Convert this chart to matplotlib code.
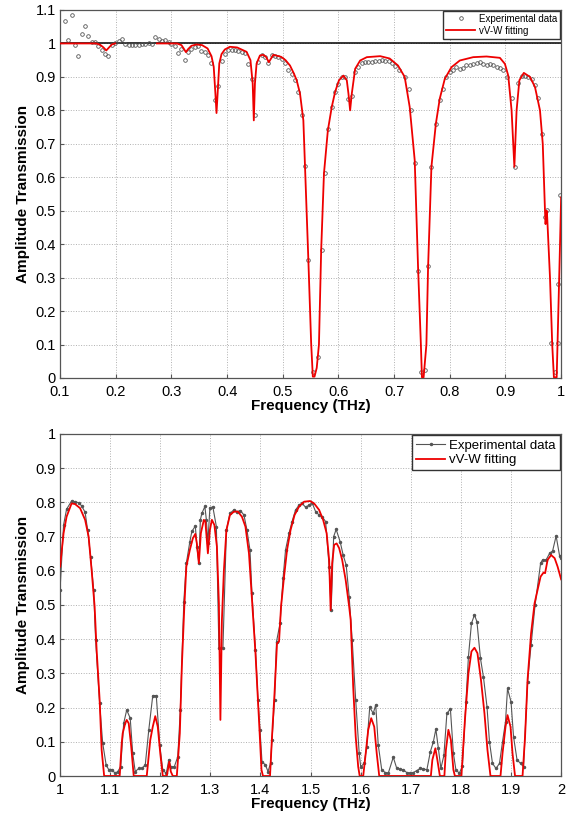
import numpy as np
import matplotlib
matplotlib.use('Agg')
from matplotlib import pyplot as plt

plt.rcParams['font.family'] = ['Liberation Sans', 'DejaVu Sans']

# ---- top panel (0.1 - 1 THz) ----
exp1_f = [0.109, 0.115, 0.121, 0.127, 0.133, 0.139, 0.145, 0.151, 0.157, 0.163, 0.169, 0.175,
          0.181, 0.187, 0.193, 0.199, 0.205, 0.211, 0.217, 0.223, 0.229, 0.235, 0.241, 0.247,
          0.253, 0.259, 0.265, 0.271, 0.277, 0.283, 0.289, 0.295, 0.300, 0.306, 0.312, 0.318,
          0.324, 0.330, 0.336, 0.342, 0.348, 0.354, 0.360, 0.366, 0.372, 0.378, 0.384, 0.390,
          0.396, 0.402, 0.408, 0.414, 0.420, 0.426, 0.432, 0.438, 0.444, 0.450, 0.456, 0.462,
          0.468, 0.474, 0.480, 0.486, 0.492, 0.498, 0.504, 0.510, 0.516, 0.522, 0.528, 0.534,
          0.540, 0.546, 0.555, 0.564, 0.570, 0.576, 0.582, 0.588, 0.594, 0.600, 0.606, 0.612,
          0.618, 0.624, 0.630, 0.636, 0.642, 0.648, 0.654, 0.660, 0.666, 0.672, 0.678, 0.684,
          0.690, 0.696, 0.702, 0.708, 0.720, 0.726, 0.731, 0.737, 0.743, 0.749, 0.755, 0.760,
          0.767, 0.776, 0.782, 0.788, 0.794, 0.800, 0.806, 0.812, 0.818, 0.824, 0.830, 0.836,
          0.842, 0.848, 0.854, 0.860, 0.866, 0.872, 0.878, 0.884, 0.890, 0.896, 0.903, 0.911,
          0.917, 0.923, 0.929, 0.935, 0.941, 0.947, 0.953, 0.959, 0.965, 0.971, 0.975, 0.981,
          0.989, 0.994, 0.995, 0.998]
exp1_t = [1.067, 1.011, 1.084, 0.996, 0.961, 1.027, 1.052, 1.023, 1.004, 1.004, 0.993, 0.979,
          0.969, 0.961, 0.995, 1.001, 1.007, 1.014, 0.999, 0.996, 0.994, 0.996, 0.994, 0.999,
          0.997, 1.002, 0.999, 1.019, 1.014, 1.006, 1.011, 1.004, 0.999, 0.992, 0.972, 0.984,
          0.952, 0.974, 0.982, 0.989, 0.991, 0.977, 0.973, 0.964, 0.943, 0.830, 0.872, 0.949,
          0.969, 0.979, 0.981, 0.979, 0.977, 0.974, 0.971, 0.939, 0.893, 0.787, 0.944, 0.964,
          0.959, 0.941, 0.964, 0.962, 0.959, 0.954, 0.941, 0.921, 0.909, 0.890, 0.855, 0.787,
          0.634, 0.352, 0.019, 0.064, 0.382, 0.614, 0.743, 0.810, 0.855, 0.880, 0.900, 0.900,
          0.835, 0.842, 0.914, 0.929, 0.941, 0.944, 0.946, 0.944, 0.949, 0.949, 0.951, 0.949,
          0.947, 0.942, 0.934, 0.921, 0.900, 0.865, 0.800, 0.643, 0.320, 0.019, 0.024, 0.335,
          0.631, 0.760, 0.830, 0.865, 0.900, 0.914, 0.921, 0.929, 0.924, 0.927, 0.936, 0.937,
          0.939, 0.941, 0.944, 0.939, 0.937, 0.939, 0.936, 0.931, 0.927, 0.921, 0.900, 0.838,
          0.631, 0.882, 0.902, 0.902, 0.900, 0.895, 0.875, 0.838, 0.730, 0.482, 0.501, 0.104,
          0.019, 0.104, 0.282, 0.546]

fit1_f = [0.100, 0.165, 0.172, 0.178, 0.183, 0.188, 0.193, 0.199, np.nan,
          0.274, 0.310, 0.318, 0.322, 0.326, 0.330, 0.336, 0.345, 0.355, 0.365, 0.372,
          0.376, 0.379, 0.381, 0.383, 0.386, 0.390, 0.396, 0.405, 0.418, 0.435, 0.442,
          0.446, 0.448, 0.450, 0.453, 0.459, 0.465, 0.470, 0.475, 0.479, 0.483, 0.497,
          0.505, 0.513, 0.520, 0.525, 0.531, 0.537, 0.540, 0.546, 0.551, 0.554, 0.557,
          0.561, 0.565, 0.569, 0.574, 0.581, 0.588, 0.594, 0.601, 0.609, 0.615, 0.618,
          0.621, 0.624, 0.630, 0.639, 0.651, 0.675, 0.692, 0.707, 0.719, 0.728, 0.737,
          0.743, 0.748, 0.750, 0.753, 0.758, 0.761, 0.767, 0.775, 0.782, 0.791, 0.803,
          0.818, 0.842, 0.866, 0.890, 0.899, 0.905, 0.911, 0.916, 0.920, 0.925, 0.933,
          0.944, 0.953, 0.962, 0.967, 0.971, 0.972, 0.974, 0.975, 0.980, 0.984, 0.987,
          0.992, 0.995, 0.998, 1.000]
fit1_t = [1.000, 1.000, 0.996, 0.988, 0.979, 0.988, 0.997, 1.000, np.nan,
          1.000, 1.000, 0.995, 0.985, 0.974, 0.983, 0.993, 0.997, 0.995, 0.985, 0.962,
          0.930, 0.850, 0.792, 0.850, 0.940, 0.968, 0.982, 0.990, 0.988, 0.975, 0.950,
          0.880, 0.770, 0.880, 0.940, 0.964, 0.966, 0.960, 0.944, 0.955, 0.966, 0.960,
          0.950, 0.934, 0.910, 0.890, 0.850, 0.770, 0.631, 0.352, 0.104, 0.004, 0.004,
          0.030, 0.100, 0.382, 0.611, 0.740, 0.810, 0.855, 0.890, 0.904, 0.890, 0.850,
          0.800, 0.850, 0.924, 0.949, 0.959, 0.962, 0.955, 0.934, 0.900, 0.810, 0.651,
          0.332, 0.104, 0.002, 0.002, 0.100, 0.330, 0.631, 0.760, 0.835, 0.894, 0.929,
          0.949, 0.959, 0.961, 0.957, 0.939, 0.904, 0.800, 0.631, 0.800, 0.890, 0.912,
          0.900, 0.870, 0.800, 0.700, 0.500, 0.460, 0.500, 0.480, 0.300, 0.100, 0.002,
          0.002, 0.200, 0.400, 0.540]

# ---- bottom panel (1 - 2 THz) ----
exp2_f = [1.000, 1.007, 1.013, 1.023, 1.030, 1.037, 1.043, 1.050, 1.055, 1.061, 1.067, 1.071,
          1.079, 1.085, 1.092, 1.097, 1.103, 1.110, 1.115, 1.121, 1.127, 1.133, 1.140, 1.145,
          1.150, 1.157, 1.163, 1.170, 1.177, 1.185, 1.192, 1.199, 1.205, 1.212, 1.217, 1.221,
          1.228, 1.235, 1.240, 1.247, 1.252, 1.259, 1.263, 1.270, 1.273, 1.277, 1.280, 1.283,
          1.289, 1.292, 1.295, 1.299, 1.305, 1.312, 1.317, 1.325, 1.332, 1.339, 1.347, 1.353,
          1.360, 1.367, 1.373, 1.379, 1.383, 1.390, 1.395, 1.399, 1.403, 1.410, 1.415, 1.420,
          1.423, 1.428, 1.432, 1.439, 1.445, 1.450, 1.457, 1.463, 1.470, 1.477, 1.483, 1.490,
          1.497, 1.503, 1.510, 1.517, 1.523, 1.530, 1.537, 1.541, 1.546, 1.551, 1.559, 1.565,
          1.571, 1.577, 1.583, 1.590, 1.597, 1.600, 1.607, 1.612, 1.618, 1.625, 1.630, 1.635,
          1.642, 1.649, 1.655, 1.665, 1.672, 1.679, 1.685, 1.692, 1.699, 1.705, 1.712, 1.719,
          1.725, 1.732, 1.739, 1.745, 1.750, 1.755, 1.760, 1.766, 1.772, 1.779, 1.785, 1.790,
          1.797, 1.803, 1.810, 1.815, 1.821, 1.827, 1.832, 1.839, 1.845, 1.852, 1.857, 1.863,
          1.870, 1.877, 1.883, 1.889, 1.893, 1.900, 1.905, 1.912, 1.919, 1.925, 1.933, 1.940,
          1.948, 1.959, 1.963, 1.970, 1.977, 1.983, 1.990, 1.997, 2.000]
exp2_t = [0.545, 0.734, 0.780, 0.804, 0.802, 0.799, 0.790, 0.771, 0.719, 0.641, 0.544, 0.398,
          0.212, 0.097, 0.032, 0.019, 0.019, 0.008, 0.013, 0.027, 0.154, 0.193, 0.169, 0.066,
          0.013, 0.022, 0.022, 0.032, 0.134, 0.235, 0.235, 0.091, 0.017, 0.008, 0.047, 0.027,
          0.027, 0.057, 0.193, 0.510, 0.622, 0.685, 0.715, 0.731, 0.671, 0.622, 0.749, 0.768,
          0.788, 0.749, 0.680, 0.785, 0.786, 0.729, 0.373, 0.373, 0.719, 0.768, 0.778, 0.773,
          0.776, 0.763, 0.719, 0.661, 0.534, 0.368, 0.222, 0.135, 0.042, 0.032, 0.013, 0.037,
          0.105, 0.222, 0.393, 0.446, 0.578, 0.661, 0.710, 0.744, 0.778, 0.792, 0.797, 0.786,
          0.792, 0.799, 0.773, 0.763, 0.758, 0.744, 0.612, 0.485, 0.700, 0.721, 0.685, 0.646,
          0.617, 0.524, 0.398, 0.222, 0.066, 0.027, 0.037, 0.086, 0.201, 0.183, 0.208, 0.091,
          0.018, 0.010, 0.008, 0.055, 0.022, 0.020, 0.018, 0.010, 0.008, 0.010, 0.016, 0.022,
          0.021, 0.018, 0.071, 0.100, 0.137, 0.081, 0.022, 0.060, 0.183, 0.196, 0.066, 0.018,
          0.008, 0.030, 0.215, 0.349, 0.446, 0.471, 0.451, 0.344, 0.289, 0.203, 0.100, 0.037,
          0.022, 0.037, 0.100, 0.159, 0.256, 0.217, 0.115, 0.047, 0.037, 0.027, 0.276, 0.383,
          0.500, 0.622, 0.632, 0.632, 0.651, 0.658, 0.702, 0.643, 0.637]

fit2_f = [1.000, 1.007, 1.013, 1.023, 1.030, 1.040, 1.050, 1.057, 1.063, 1.069, 1.073, 1.079,
          1.083, 1.088, 1.119, 1.123, 1.125, 1.130, 1.133, 1.137, 1.142, 1.147, 1.173, 1.180,
          1.185, 1.190, 1.195, 1.200, 1.205, 1.213, 1.218, 1.221, 1.225, 1.233, 1.239, 1.243,
          1.248, 1.252, 1.259, 1.265, 1.270, 1.273, 1.277, 1.281, 1.287, 1.290, 1.293, 1.295,
          1.299, 1.303, 1.308, 1.313, 1.317, 1.320, 1.323, 1.327, 1.332, 1.339, 1.347, 1.355,
          1.363, 1.370, 1.377, 1.383, 1.390, 1.397, 1.402, 1.405, 1.419, 1.423, 1.428, 1.433,
          1.437, 1.441, 1.447, 1.453, 1.460, 1.468, 1.477, 1.487, 1.499, 1.507, 1.517, 1.525,
          1.532, 1.537, 1.540, 1.543, 1.547, 1.552, 1.557, 1.563, 1.570, 1.577, 1.580, 1.585,
          1.590, 1.595, 1.598, 1.605, 1.610, 1.615, 1.621, 1.627, 1.632, 1.637, 1.740, 1.743,
          1.749, 1.753, 1.758, 1.767, 1.770, 1.775, 1.780, 1.785, 1.788, 1.801, 1.808, 1.815,
          1.821, 1.827, 1.833, 1.840, 1.847, 1.853, 1.859, 1.879, 1.883, 1.889, 1.893, 1.899,
          1.903, 1.908, 1.923, 1.928, 1.933, 1.940, 1.947, 1.953, 1.959, 1.965, 1.968, 1.973,
          1.980, 1.987, 1.993, 2.000]
fit2_t = [0.612, 0.710, 0.758, 0.797, 0.795, 0.783, 0.749, 0.700, 0.602, 0.495, 0.368, 0.222,
          0.076, 0.000, 0.000, 0.096, 0.125, 0.154, 0.164, 0.154, 0.086, 0.000, 0.000, 0.105,
          0.144, 0.175, 0.144, 0.066, 0.000, 0.000, 0.042, 0.013, 0.000, 0.000, 0.125, 0.320,
          0.495, 0.612, 0.661, 0.695, 0.708, 0.680, 0.622, 0.710, 0.749, 0.744, 0.690, 0.651,
          0.719, 0.749, 0.734, 0.671, 0.505, 0.164, 0.456, 0.602, 0.719, 0.763, 0.773, 0.773,
          0.758, 0.729, 0.651, 0.515, 0.359, 0.164, 0.018, 0.000, 0.000, 0.115, 0.242, 0.388,
          0.393, 0.495, 0.583, 0.661, 0.719, 0.763, 0.788, 0.802, 0.804, 0.797, 0.778, 0.749,
          0.710, 0.632, 0.485, 0.622, 0.676, 0.680, 0.666, 0.632, 0.573, 0.495, 0.456, 0.261,
          0.115, 0.027, 0.000, 0.000, 0.066, 0.135, 0.169, 0.144, 0.066, 0.000, 0.000, 0.047,
          0.081, 0.047, 0.000, 0.000, 0.076, 0.135, 0.105, 0.018, 0.000, 0.000, 0.164, 0.300,
          0.364, 0.375, 0.359, 0.281, 0.183, 0.076, 0.000, 0.000, 0.066, 0.144, 0.178, 0.144,
          0.066, 0.000, 0.000, 0.115, 0.281, 0.417, 0.505, 0.544, 0.583, 0.595, 0.593, 0.632,
          0.646, 0.637, 0.612, 0.575]

fig = plt.figure(figsize=(5.72, 8.19), dpi=100)
ax1 = fig.add_axes([0.105, 0.5385, 0.876, 0.4493])
ax2 = fig.add_axes([0.105, 0.0525, 0.876, 0.4176])

grid_kw = dict(color='#b0b0b0', linestyle=':', linewidth=0.7)

# top
ax1.axhline(1.0, color='black', lw=1.1, zorder=2)
ax1.plot(exp1_f, exp1_t, 'o', ms=2.6, mfc='none', mec='#555555', mew=0.6,
         label='Experimental data', zorder=3)
ax1.plot(fit1_f, fit1_t, '-', color='#ee0000', lw=1.3, label='vV-W fitting', zorder=4)
ax1.set_xlim(0.1, 1.0)
ax1.set_ylim(0, 1.1)
ax1.set_xticks(np.arange(0.1, 1.01, 0.1))
ax1.set_xticklabels(['0.1', '0.2', '0.3', '0.4', '0.5', '0.6', '0.7', '0.8', '0.9', '1'])
ax1.set_yticks(np.arange(0, 1.11, 0.1))
ax1.set_yticklabels(['0', '0.1', '0.2', '0.3', '0.4', '0.5', '0.6', '0.7', '0.8', '0.9', '1', '1.1'])
ax1.set_xlabel('Frequency (THz)', fontsize=11, fontweight='bold', labelpad=0)
ax1.set_ylabel('Amplitude Transmission', fontsize=11, fontweight='bold', labelpad=4)
ax1.legend(loc='upper right', fontsize=7, fancybox=False, edgecolor='#333333',
           framealpha=1, borderpad=0.3, handlelength=3, handletextpad=0.4,
           borderaxespad=0.1, labelspacing=0.2)

# bottom
ax2.plot(exp2_f, exp2_t, '-', color='#555555', lw=0.8, marker='.', ms=3,
         label='Experimental data', zorder=3)
ax2.plot(fit2_f, fit2_t, '-', color='#ee0000', lw=1.3, label='vV-W fitting', zorder=4)
ax2.set_xlim(1.0, 2.0)
ax2.set_ylim(0, 1.0)
ax2.set_xticks(np.arange(1.0, 2.01, 0.1))
ax2.set_xticklabels(['1', '1.1', '1.2', '1.3', '1.4', '1.5', '1.6', '1.7', '1.8', '1.9', '2'])
ax2.set_yticks(np.arange(0, 1.01, 0.1))
ax2.set_yticklabels(['0', '0.1', '0.2', '0.3', '0.4', '0.5', '0.6', '0.7', '0.8', '0.9', '1'])
ax2.set_xlabel('Frequency (THz)', fontsize=11, fontweight='bold', labelpad=0)
ax2.set_ylabel('Amplitude Transmission', fontsize=11, fontweight='bold', labelpad=4)
ax2.legend(loc='upper right', fontsize=9.5, fancybox=False, edgecolor='#333333',
           framealpha=1, borderpad=0.3, handlelength=2.2, handletextpad=0.3,
           borderaxespad=0.1, labelspacing=0.2)

for ax in (ax1, ax2):
    ax.grid(True, **grid_kw)
    ax.tick_params(direction='in', length=3, labelsize=10.5, color='#555555')
    ax.tick_params(axis='x', pad=5)
    ax.tick_params(axis='y', pad=3)
    for s in ax.spines.values():
        s.set_color('#555555')
        s.set_linewidth(0.9)

fig.savefig('out.png', dpi=100)
